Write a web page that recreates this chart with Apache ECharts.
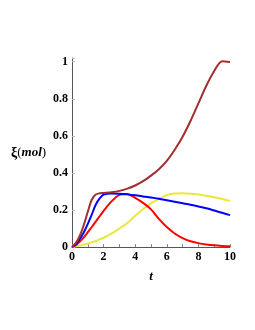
<!DOCTYPE html>
<html>
<head>
<meta charset="utf-8">
<script src="https://cdn.jsdelivr.net/npm/echarts@6/dist/echarts.min.js"></script>
<style>html,body{margin:0;padding:0;background:#fff}#c{width:255px;height:330px}</style>
</head>
<body>
<div id="c"></div>
<script>
const tValues = [0,0.25,0.5,0.75,1,1.25,1.5,1.75,2,2.5,3,3.5,4,4.5,5,5.5,6,6.5,7,7.5,8,8.5,9,9.5,10];
const brown  = [0,0.022,0.062,0.12,0.19,0.255,0.283,0.29,0.292,0.296,0.303,0.315,0.332,0.355,0.385,0.42,0.465,0.525,0.595,0.68,0.775,0.87,0.95,1.003,0.998];
const blue   = [0,0.016,0.043,0.08,0.125,0.175,0.228,0.262,0.283,0.289,0.288,0.284,0.279,0.273,0.267,0.26,0.252,0.244,0.236,0.228,0.219,0.209,0.197,0.185,0.172];
const red    = [0,0.01,0.03,0.052,0.08,0.108,0.137,0.166,0.195,0.246,0.281,0.286,0.265,0.238,0.203,0.152,0.108,0.073,0.048,0.031,0.021,0.014,0.009,0.006,0.004];
const yellow = [0,0.004,0.008,0.013,0.018,0.025,0.032,0.041,0.05,0.072,0.1,0.13,0.168,0.205,0.235,0.26,0.28,0.289,0.29,0.288,0.283,0.276,0.268,0.259,0.249];
const xTicks = [0,2,4,6,8,10];
const yTicks = [0,0.2,0.4,0.6,0.8,1];

const pairs = arr => tValues.map((t,i)=>[t,arr[i]]);
const font = '"Liberation Serif", "Times New Roman", serif';
const mk = (data,color) => ({type:'line',data:pairs(data),smooth:0.3,showSymbol:false,
  lineStyle:{color:color,width:2},itemStyle:{color:color},z:2});

const chart = echarts.init(document.getElementById('c'),null,{renderer:'canvas'});
chart.setOption({
  animation:false,
  grid:{left:72,right:25,top:58,bottom:83,containLabel:false},
  xAxis:{type:'value',min:0,max:10,interval:1,
    name:'t',nameLocation:'middle',nameGap:23,
    nameTextStyle:{fontFamily:font,fontStyle:'italic',fontWeight:'bold',fontSize:13,color:'#000'},
    axisLine:{lineStyle:{color:'#555',width:1}},
    axisTick:{show:true,inside:true,length:3,lineStyle:{color:'#888'}},
    splitLine:{show:false},
    axisLabel:{fontFamily:font,fontWeight:'bold',fontSize:12,color:'#000',margin:4,
      formatter:v=>xTicks.indexOf(v)>=0?String(v):''}},
  yAxis:{type:'value',min:0,max:1.02,interval:0.2,
    axisLine:{show:true,lineStyle:{color:'#555',width:1}},
    axisTick:{show:true,inside:true,length:3,lineStyle:{color:'#bbb'}},
    splitLine:{show:false},
    axisLabel:{fontFamily:font,fontWeight:'bold',fontSize:12,color:'#000',margin:4,
      formatter:v=>{const k=yTicks.find(y=>Math.abs(y-v)<1e-6);return k===undefined?'':String(k);}}},
  graphic:[{type:'text',left:11,top:146,style:{
    text:'{a|ξ}{b|(}{c|mol}{b|)}',
    rich:{a:{fontFamily:font,fontWeight:'bold',fontSize:14,fill:'#000'},
          b:{fontFamily:font,fontSize:13,fill:'#000'},
          c:{fontFamily:font,fontStyle:'italic',fontWeight:'bold',fontSize:13,fill:'#000'}}}}],
  series:[mk(yellow,'#E8E83A'),mk(red,'#FF0000'),mk(blue,'#0000FF'),mk(brown,'#A0302E')]
});
</script>
</body>
</html>
